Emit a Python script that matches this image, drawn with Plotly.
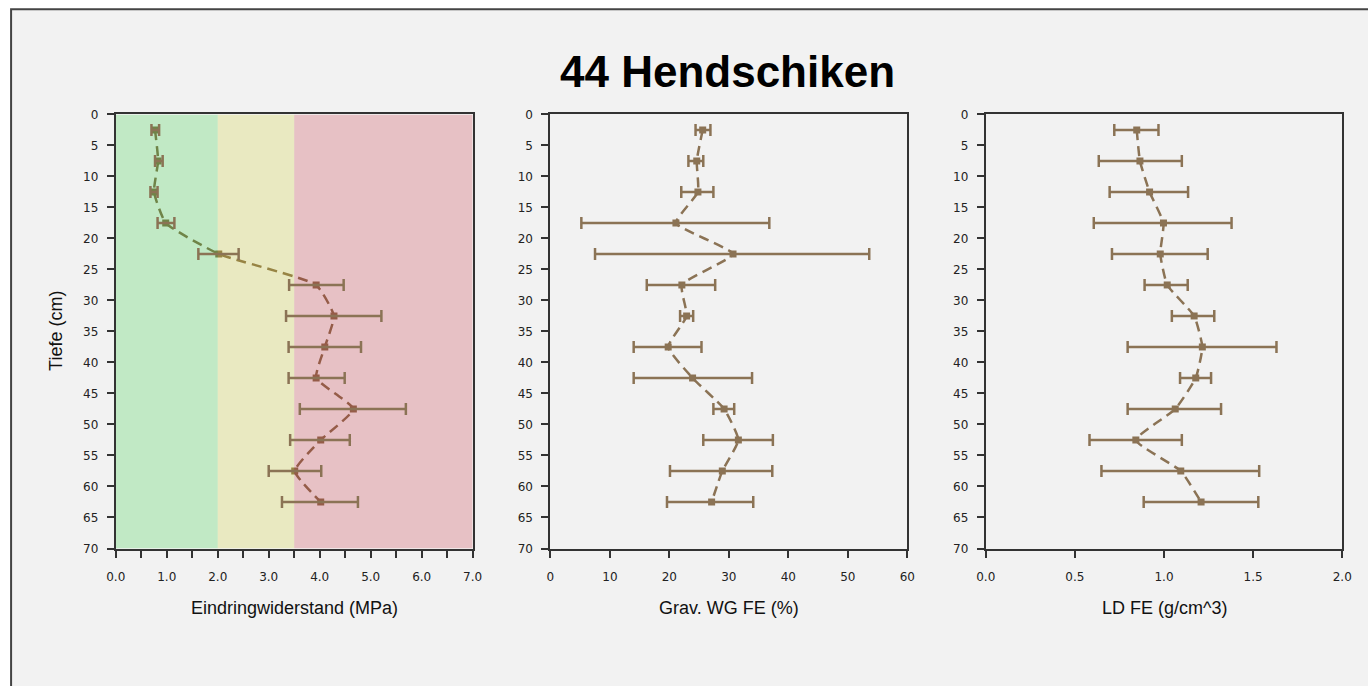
import plotly.graph_objects as go

W, H = 1368, 686
# observed page mapping: shown = S * (figure_px + 8)
SX, SY, OFF = 1368 / 1384, 686 / 702, 8

depth = [2.5, 7.5, 12.5, 17.5, 22.5, 27.5, 32.5, 37.5, 42.5, 47.5, 52.5, 57.5, 62.5]

# Eindringwiderstand (MPa): mean, lower, upper
ew_mean = [0.77, 0.83, 0.75, 0.98, 2.02, 3.93, 4.28, 4.10, 3.93, 4.66, 4.02, 3.51, 4.02]
ew_low = [0.70, 0.77, 0.68, 0.82, 1.62, 3.40, 3.34, 3.39, 3.39, 3.61, 3.42, 3.00, 3.26]
ew_high = [0.85, 0.92, 0.82, 1.15, 2.41, 4.47, 5.21, 4.81, 4.49, 5.69, 4.59, 4.03, 4.75]

# Grav. WG FE (%)
wg_mean = [25.6, 24.6, 24.8, 21.1, 30.7, 22.1, 22.9, 19.8, 23.9, 29.2, 31.6, 28.9, 27.1]
wg_low = [24.4, 23.2, 22.0, 5.2, 7.5, 16.2, 21.8, 14.0, 14.0, 27.4, 25.7, 20.1, 19.6]
wg_high = [26.9, 25.7, 27.4, 36.8, 53.6, 27.7, 24.0, 25.4, 33.9, 30.9, 37.4, 37.3, 34.1]

# LD FE (g/cm^3)
ld_mean = [0.847, 0.865, 0.919, 0.997, 0.979, 1.018, 1.169, 1.215, 1.178, 1.063, 0.842, 1.094, 1.208]
ld_low = [0.721, 0.634, 0.695, 0.606, 0.708, 0.891, 1.044, 0.796, 1.090, 0.796, 0.582, 0.649, 0.886]
ld_high = [0.969, 1.100, 1.135, 1.379, 1.245, 1.133, 1.282, 1.631, 1.264, 1.320, 1.100, 1.534, 1.529]

# zones for Eindringwiderstand
zone_bounds = [(0.0, 2.0), (2.0, 3.5), (3.5, 7.0)]
zone_colors = ["rgba(0,200,20,0.2)", "rgba(200,200,0,0.2)", "rgba(190,0,20,0.2)"]

title_text = "44 Hendschiken"
y_title = "Tiefe (cm)"
x_titles = ["Eindringwiderstand (MPa)", "Grav. WG FE (%)", "LD FE (g/cm^3)"]

BROWN = "#8b7355"
FONT = "Liberation Sans"
TICKFONT = dict(family="DejaVu Sans", size=12, color="#222")

fig = go.Figure()

def line_trace(x, xa, ya):
    return go.Scatter(
        x=x, y=depth, xaxis=xa, yaxis=ya, mode="lines+markers",
        line=dict(color=BROWN, width=2.5, dash="10px,6px", shape="spline", smoothing=0.45),
        marker=dict(symbol="square", size=7, color=BROWN),
        showlegend=False, hoverinfo="skip",
    )

def err_trace(x, lo, hi, xa, ya):
    return go.Scatter(
        x=x, y=depth, xaxis=xa, yaxis=ya, mode="markers",
        marker=dict(size=0.1, color="rgba(0,0,0,0)"),
        error_x=dict(type="data", symmetric=False,
                     array=[h - m for h, m in zip(hi, x)],
                     arrayminus=[m - l for m, l in zip(x, lo)],
                     color=BROWN, thickness=2.5, width=6),
        showlegend=False, hoverinfo="skip",
    )

# Panel 1: line, then tint overlays, then error bars
fig.add_trace(line_trace(ew_mean, "x", "y"))
for (a, b), c in zip(zone_bounds, zone_colors):
    fig.add_trace(go.Scatter(
        x=[a, b, b, a, a], y=[0, 0, 70, 70, 0], xaxis="x", yaxis="y",
        mode="lines", fill="toself", fillcolor=c, line=dict(width=0),
        showlegend=False, hoverinfo="skip"))
fig.add_trace(err_trace(ew_mean, ew_low, ew_high, "x", "y"))

# Panel 2
fig.add_trace(line_trace(wg_mean, "x2", "y2"))
fig.add_trace(err_trace(wg_mean, wg_low, wg_high, "x2", "y2"))

# Panel 3
fig.add_trace(line_trace(ld_mean, "x3", "y3"))
fig.add_trace(err_trace(ld_mean, ld_low, ld_high, "x3", "y3"))

def fx(p):
    return (p / SX - OFF) / W

def fy(p):
    return 1 - (p / SY - OFF) / H

px_dom = [(114, 472), (550, 908), (986.7, 1344.3)]
y_dom = [fy(548), fy(115)]

axis_common = dict(showline=True, linecolor="#333", linewidth=2, mirror=True,
                   ticks="outside", ticklen=7, tickwidth=1.5, tickcolor="#333",
                   showgrid=False, zeroline=False, tickfont=TICKFONT)

xcfg = [
    dict(range=[0, 7], tickvals=[0, 1, 2, 3, 4, 5, 6, 7],
         ticktext=["0.0", "1.0", "2.0", "3.0", "4.0", "5.0", "6.0", "7.0"],
         minor=dict(tickvals=[0.5, 1.5, 2.5, 3.5, 4.5, 5.5, 6.5], ticklen=7, tickwidth=1.5,
                    tickcolor="#333", ticks="outside")),
    dict(range=[0, 60], tickvals=[0, 10, 20, 30, 40, 50, 60]),
    dict(range=[0, 2], tickvals=[0, 0.5, 1.0, 1.5, 2.0],
         ticktext=["0.0", "0.5", "1.0", "1.5", "2.0"]),
]

layout = dict(
    width=W, height=H,
    margin=dict(l=0, r=0, t=0, b=0),
    paper_bgcolor="white", plot_bgcolor="rgba(0,0,0,0)",
    font=dict(family=FONT, color="#111"),
    showlegend=False,
)
annotations = []
for i in range(3):
    sfx = "" if i == 0 else str(i + 1)
    x0, x1 = px_dom[i]
    xa = dict(axis_common)
    xa.update(xcfg[i])
    xa.update(domain=[fx(x0), fx(x1)], anchor="y" + sfx, fixedrange=True, ticklabelstandoff=9)
    ya = dict(axis_common)
    ya.update(domain=y_dom, anchor="x" + sfx, range=[70, 0],
              tickvals=list(range(0, 71, 5)), fixedrange=True, ticklabelstandoff=6)
    layout["xaxis" + sfx] = xa
    layout["yaxis" + sfx] = ya
    annotations.append(dict(text=x_titles[i], xref="paper", yref="paper",
                            x=fx((x0 + x1) / 2), y=fy(607), xanchor="center", yanchor="middle",
                            showarrow=False, font=dict(family=FONT, size=18, color="#111")))

annotations.append(dict(text=y_title, xref="paper", yref="paper", textangle=-90,
                        x=fx(54), y=fy(331), xanchor="center", yanchor="middle",
                        showarrow=False, font=dict(family=FONT, size=18, color="#111")))
annotations.append(dict(text="<b>" + title_text + "</b>", xref="paper", yref="paper",
                        x=fx(727.5), y=fy(72), xanchor="center", yanchor="middle",
                        showarrow=False, font=dict(family=FONT, size=44, color="#000")))

layout["shapes"] = [dict(type="rect", xref="paper", yref="paper",
                         x0=fx(9), x1=1.02, y0=-0.02, y1=fy(10),
                         fillcolor="#f2f2f2", line=dict(color="#444", width=2), layer="below")]
layout["annotations"] = annotations

fig.update_layout(**layout)
fig.write_html("out.html")
